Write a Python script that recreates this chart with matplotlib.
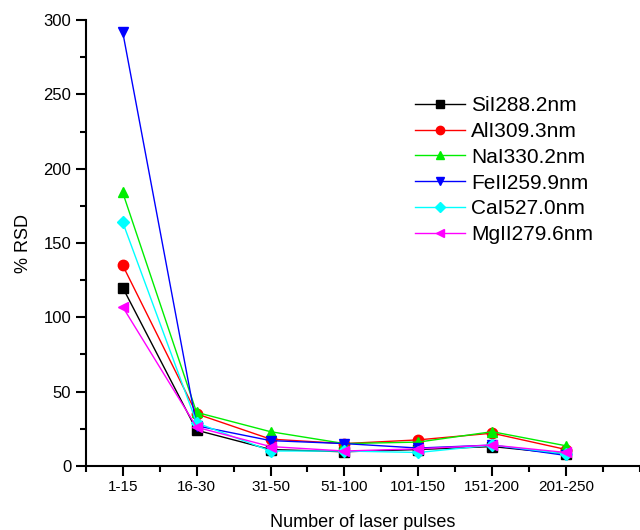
import numpy as np
import matplotlib
matplotlib.use("Agg")
from matplotlib import pyplot as plt
from matplotlib.ticker import MultipleLocator

plt.rcParams['font.family'] = ['Liberation Sans', 'DejaVu Sans']

# intervalos de pulsos
pulsos = ["1-15", "16-30", "31-50", "51-100", "101-150", "151-200", "201-250"]

# %RSD por linea de emision
si = [120, 24, 11, 9.5, 11, 13, 8]
al = [135, 35, 18, 15, 17.5, 22, 11]
na = [184, 36, 23, 15, 16, 23, 13.5]
fe = [292, 27, 17, 15, 12, 14, 7]
ca = [164, 29, 10, 10, 9, 14, 8]
mg = [107, 26, 13, 10, 11.5, 14, 9]

series = [
    ("SiI288.2nm", si, "black", "s"),
    ("AlI309.3nm", al, "red", "o"),
    ("NaI330.2nm", na, "#00ee00", "^"),
    ("FeII259.9nm", fe, "blue", "v"),
    ("CaI527.0nm", ca, "cyan", "D"),
    ("MgII279.6nm", mg, "magenta", "<"),
]

fig = plt.figure(figsize=(6.4, 5.3), dpi=100)
ax = fig.add_axes([0.134, 0.121, 0.866, 0.841])

x = np.arange(1, len(pulsos) + 1)
for nombre, vals, color, marca in series:
    ms = 6.5 if marca == "D" else 7.5
    ax.plot(x, vals, color=color, marker=marca, markersize=ms, linewidth=1,
            label=nombre)

ax.set_xlim(0.5, 8.0)
ax.set_ylim(0, 300)
ax.set_xticks(x)
ax.set_xticklabels(pulsos, fontsize=11)
ax.xaxis.set_minor_locator(MultipleLocator(0.5))
ax.yaxis.set_major_locator(MultipleLocator(50))
ax.yaxis.set_minor_locator(MultipleLocator(25))
ax.tick_params(axis='y', labelsize=12)
ax.tick_params(which='major', length=7, width=1.5)
ax.tick_params(which='minor', length=4, width=1.5)

ax.spines['top'].set_visible(False)
ax.spines['right'].set_visible(False)
ax.spines['left'].set_linewidth(1.5)
ax.spines['bottom'].set_linewidth(1.5)

ax.set_xlabel("Number of laser pulses", fontsize=13, labelpad=14)
ax.set_ylabel("% RSD", fontsize=13, labelpad=8)

ax.legend(loc='upper left', bbox_to_anchor=(0.56, 0.872), frameon=False,
          fontsize=15, handlelength=2.4, handletextpad=0.3,
          labelspacing=0.33, markerscale=0.8)

plt.savefig("out.png", dpi=100)
